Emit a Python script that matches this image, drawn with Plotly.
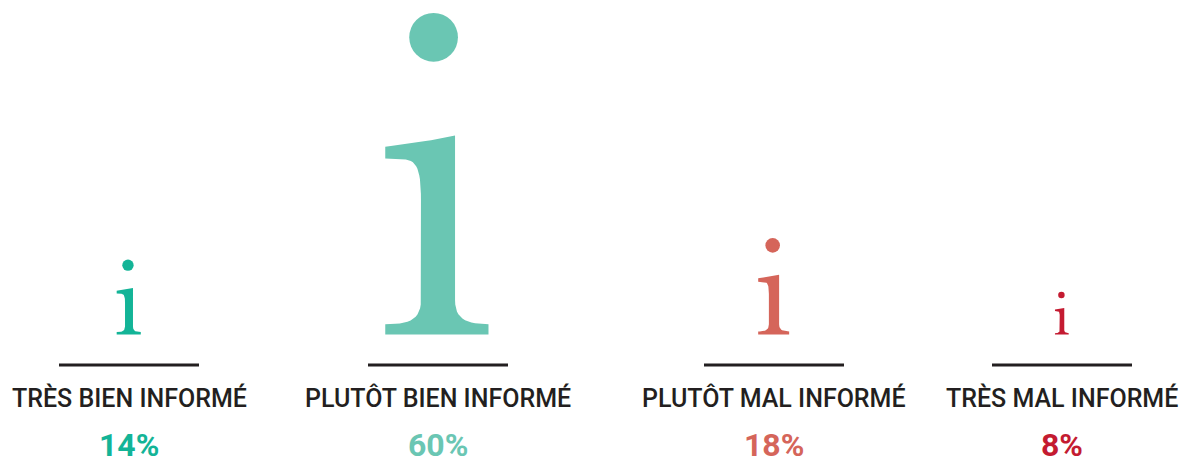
import plotly.graph_objects as go
import numpy as np

# ---- data ----
categories = ["TRÈS BIEN INFORMÉ", "PLUTÔT BIEN INFORMÉ", "PLUTÔT MAL INFORMÉ", "TRÈS MAL INFORMÉ"]
values = [14, 60, 18, 8]
value_labels = ["14%", "60%", "18%", "8%"]
colors = ["#13b497", "#6ac6b3", "#d5655a", "#c41b31"]

# ---- layout constants ----
W, H = 1179, 459
PX_PER_PCT = 5.36
BASELINE_PX = 334.5
centers = [129, 438, 774, 1062]
y_lo = -(H - BASELINE_PX) / PX_PER_PCT
y_hi = BASELINE_PX / PX_PER_PCT


def cubic(p0, p1, p2, p3, n=14):
    t = np.linspace(0, 1, n)[1:]
    pts = []
    for tt in t:
        x = (1-tt)**3*p0[0] + 3*(1-tt)**2*tt*p1[0] + 3*(1-tt)*tt**2*p2[0] + tt**3*p3[0]
        y = (1-tt)**3*p0[1] + 3*(1-tt)**2*tt*p1[1] + 3*(1-tt)*tt**2*p2[1] + tt**3*p3[1]
        pts.append((x, y))
    return pts


# glyph "i" outline in units of glyph height (baseline = 0, dot top = 1)
def glyph_outline():
    pts = [(0.053, 0.619)]
    pts += cubic(pts[-1], (0.0, 0.607), (-0.09, 0.592), (-0.164, 0.584))
    pts.append((-0.164, 0.547))
    pts.append((-0.10, 0.544))
    pts += cubic(pts[-1], (-0.062, 0.54), (-0.053, 0.50), (-0.053, 0.42))
    pts.append((-0.053, 0.107))
    pts += cubic(pts[-1], (-0.053, 0.045), (-0.09, 0.032), (-0.164, 0.032))
    pts.append((-0.164, 0.0))
    pts.append((0.157, 0.0))
    pts.append((0.157, 0.032))
    pts += cubic(pts[-1], (0.09, 0.034), (0.053, 0.045), (0.053, 0.107))
    pts.append((0.053, 0.619))
    return pts


OUTLINE = glyph_outline()
DOT_C = (-0.0137, 0.924)
DOT_R = 0.0757

fig = go.Figure()

for cat, v, lab, col, cx in zip(categories, values, value_labels, colors, centers):
    hpx = v * PX_PER_PCT
    xs = [cx + nx * hpx for nx, ny in OUTLINE]
    ys = [ny * v for nx, ny in OUTLINE]
    fig.add_trace(go.Scatter(x=xs, y=ys, mode="lines", fill="toself",
                             fillcolor=col, line=dict(width=0, color=col),
                             hoverinfo="skip", showlegend=False))
    fig.add_trace(go.Scatter(x=[cx + DOT_C[0] * hpx], y=[DOT_C[1] * v], mode="markers",
                             marker=dict(size=2 * DOT_R * hpx, color=col, line=dict(width=0)),
                             hovertext=[f"{cat}: {lab}"], hoverinfo="text", showlegend=False))
    fig.add_shape(type="line", xref="x", yref="y",
                  x0=cx - 70, x1=cx + 70, y0=-5.69, y1=-5.69,
                  line=dict(color="#231f20", width=3))
    fig.add_annotation(x=cx, y=-11.9, text=cat, showarrow=False, xanchor="center", yanchor="middle",
                       font=dict(family="Roboto", size=25, color="#231f20", weight=500))
    fig.add_annotation(x=cx, y=-20.6, text=lab, showarrow=False, xanchor="center", yanchor="middle",
                       font=dict(family="Roboto", size=32, color=col, weight=700))

fig.update_layout(
    width=W, height=H,
    margin=dict(l=0, r=0, t=0, b=0),
    paper_bgcolor="white", plot_bgcolor="white",
    xaxis=dict(range=[0, W], visible=False, fixedrange=True),
    yaxis=dict(range=[y_lo, y_hi], visible=False, fixedrange=True),
)

fig.write_html("out.html", config={"displayModeBar": False},
               post_script="document.body.style.margin='0px';document.body.style.overflow='hidden';")
